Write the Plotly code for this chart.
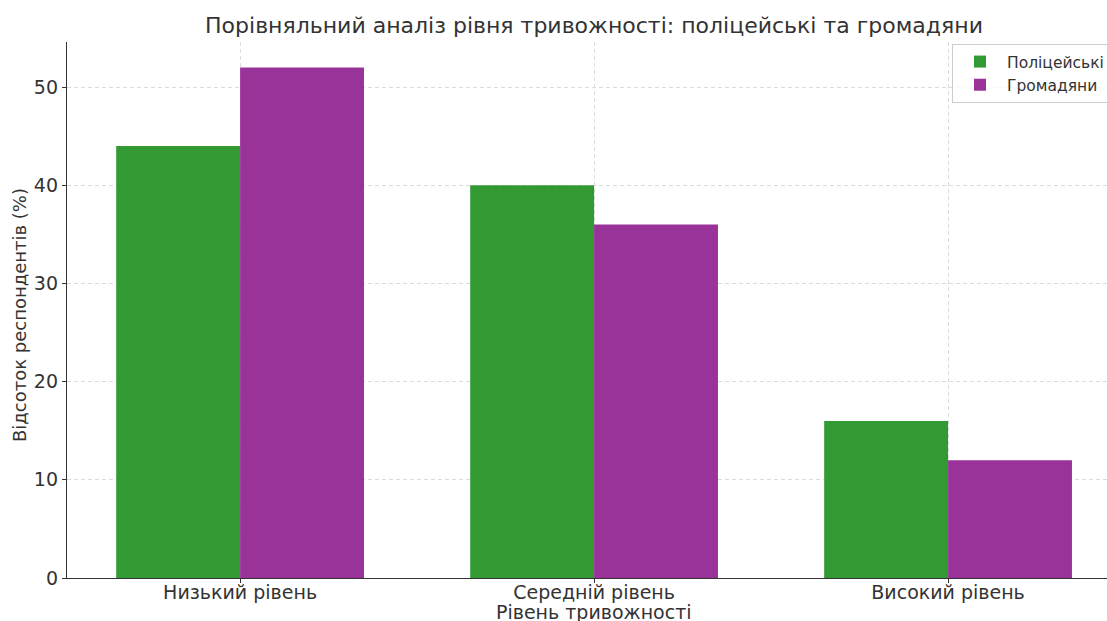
import plotly.graph_objects as go

categories = ["Низький рівень", "Середній рівень", "Високий рівень"]
police = [44, 40, 16]
citizens = [52, 36, 12]
series_names = ["Поліцейські", "Громадяни"]
colors = ["#339933", "#993399"]

xpos = list(range(len(categories)))
fig = go.Figure()
fig.add_trace(go.Bar(x=xpos, y=police, name=series_names[0], marker_color=colors[0],
                     marker_line_width=0))
fig.add_trace(go.Bar(x=xpos, y=citizens, name=series_names[1], marker_color=colors[1],
                     marker_line_width=0))

font_color = "#333333"
grid_color = "#dcdcdc"
fig.update_layout(
    width=1107, height=621,
    margin=dict(l=67, r=0, t=42, b=43, autoexpand=False),
    plot_bgcolor="white", paper_bgcolor="white",
    font=dict(family="DejaVu Sans", color=font_color, size=19),
    barmode="group", bargap=0.3, bargroupgap=0,
    title=dict(text="Порівняльний аналіз рівня тривожності: поліцейські та громадяни",
               x=594/1107, xanchor="center", xref="container",
               y=1-25/621, yanchor="middle", yref="container",
               font=dict(size=22, color=font_color)),
    showlegend=True,
    legend=dict(x=(952-67)/1040, y=(578-44)/536, xanchor="left", yanchor="top",
                bordercolor="#cccccc", borderwidth=1, bgcolor="rgba(255,255,255,0.8)",
                font=dict(size=15.5), itemsizing="constant", itemwidth=44,
                tracegroupgap=0),
)
fig.update_xaxes(
    range=[-0.489, 2.449], tickmode="array", tickvals=xpos, ticktext=categories,
    showgrid=True, gridcolor=grid_color, griddash="4px,3px", gridwidth=1,
    showline=True, linecolor="#333333", linewidth=1.3,
    ticks="outside", ticklen=4, tickcolor="#333333",
    tickfont=dict(size=19), zeroline=False, ticklabelstandoff=-7,
)
fig.update_yaxes(
    range=[0, 54.6], tickmode="array", tickvals=[0, 10, 20, 30, 40, 50],
    showgrid=True, gridcolor=grid_color, griddash="4px,3px", gridwidth=1,
    showline=True, linecolor="#333333", linewidth=1.3,
    ticks="outside", ticklen=4, tickcolor="#333333",
    tickfont=dict(size=19), zeroline=False,
)
fig.add_annotation(text="Рівень тривожності", xref="paper", yref="paper",
                   x=(594-67)/1040, y=-(612-578)/536, xanchor="center", yanchor="middle",
                   showarrow=False, font=dict(size=19, color=font_color))
fig.add_annotation(text="Відсоток респондентів (%)", xref="paper", yref="paper",
                   x=-(67-20)/1040, y=(578-315)/536, xanchor="center", yanchor="middle",
                   textangle=-90, showarrow=False, font=dict(size=18, color=font_color))

fig.write_html("out.html")
